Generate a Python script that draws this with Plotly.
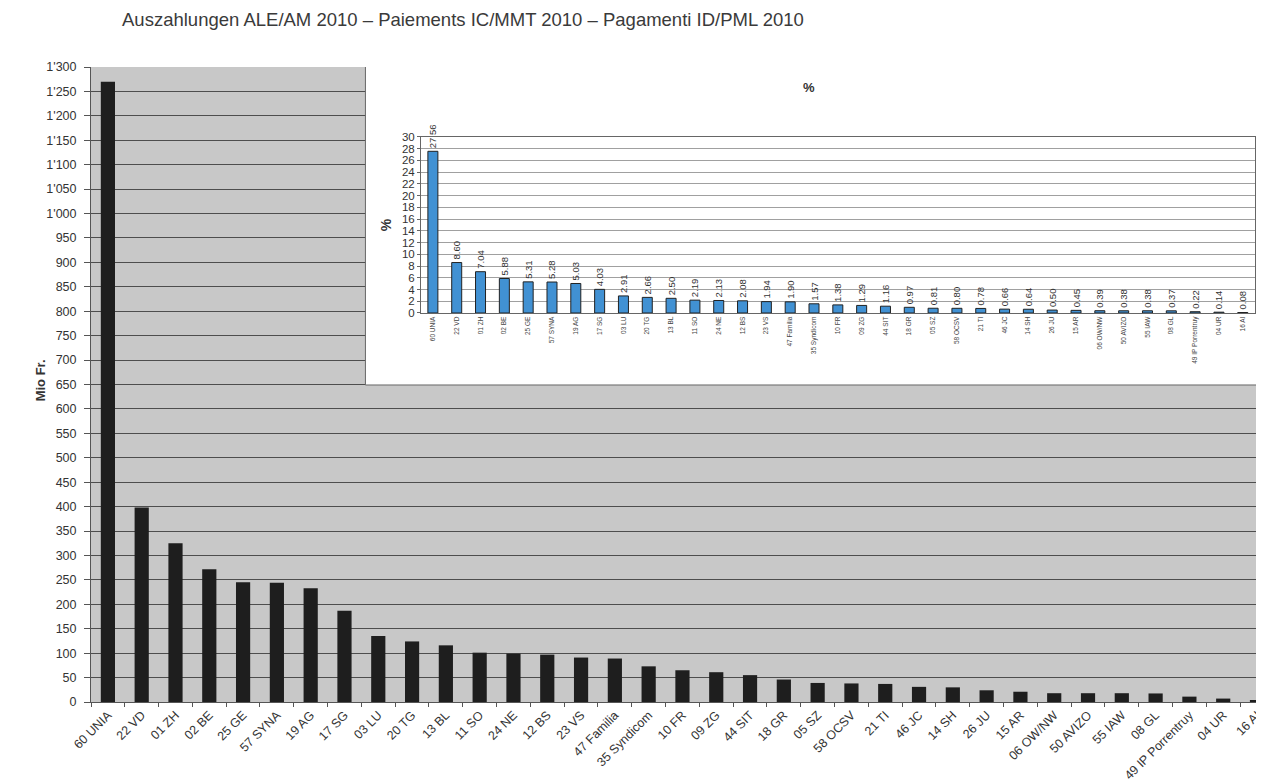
import plotly.graph_objects as go

categories = ["60 UNIA", "22 VD", "01 ZH", "02 BE", "25 GE", "57 SYNA", "19 AG", "17 SG",
              "03 LU", "20 TG", "13 BL", "11 SO", "24 NE", "12 BS", "23 VS", "47 Familia",
              "35 Syndicom", "10 FR", "09 ZG", "44 SIT", "18 GR", "05 SZ", "58 OCSV", "21 TI",
              "46 JC", "14 SH", "26 JU", "15 AR", "06 OW/NW", "50 AVIZO", "55 IAW", "08 GL",
              "49 IP Porrentruy", "04 UR", "16 AI"]

amounts_mio = [1270, 398, 325, 272, 245, 244, 233, 187,
               135, 124, 116, 101, 99, 97, 91, 89,
               73, 65, 61, 55, 46, 39, 38, 37,
               31, 30, 24, 21, 18, 18, 18, 17.5,
               11, 7, 4]

percent = [27.56, 8.60, 7.04, 5.88, 5.31, 5.28, 5.03, 4.03,
           2.91, 2.66, 2.50, 2.19, 2.13, 2.08, 1.94, 1.90,
           1.57, 1.38, 1.29, 1.16, 0.97, 0.81, 0.80, 0.78,
           0.66, 0.64, 0.50, 0.45, 0.39, 0.38, 0.38, 0.37,
           0.22, 0.14, 0.08]

main_y_ticks = list(range(0, 1301, 50))
inset_y_ticks = list(range(0, 31, 2))

title_text = "Auszahlungen ALE/AM 2010 \u2013 Paiements IC/MMT 2010 \u2013 Pagamenti ID/PML 2010"

FONT = "Liberation Sans, Arial, sans-serif"

fig = go.Figure()

fig.add_trace(go.Bar(
    x=categories, y=amounts_mio, xaxis="x", yaxis="y",
    marker=dict(color="#1e1e1e", line=dict(width=0)),
    showlegend=False, hoverinfo="x+y",
))

fig.add_trace(go.Bar(
    x=categories, y=percent, xaxis="x2", yaxis="y2",
    marker=dict(color="#4191d3", line=dict(color="#222222", width=1)),
    text=[f"{p:.2f}" for p in percent],
    textposition="outside", textangle=-90,
    textfont=dict(size=9.5, color="#333333", family=FONT),
    constraintext="none", cliponaxis=False,
    showlegend=False, hoverinfo="x+y",
))

fig.update_layout(
    width=1256, height=775,
    margin=dict(l=83, r=0, t=59, b=81),
    paper_bgcolor="white",
    plot_bgcolor="white",
    separators=".'",
    font=dict(family=FONT, color="#333333"),
    bargap=0.58,
    title=dict(text=title_text, x=0.0908, xanchor="left", xref="container",
               y=0.9845, yanchor="middle", yref="container",
               font=dict(size=18.5, color="#3a3a3a", family=FONT)),
    xaxis=dict(domain=[0, 1], anchor="y", range=[-0.5, 34.0],
               tickangle=-45, tickfont=dict(size=12.5, color="#333333"),
               ticks="outside", tickson="boundaries", ticklen=4, tickcolor="#555555",
               showgrid=False, showline=True, linecolor="#555555", linewidth=1),
    yaxis=dict(domain=[0, 1], anchor="x", range=[0, 1300],
               tickvals=main_y_ticks, tickformat=",d",
               tickfont=dict(size=12.5, color="#333333"),
               ticks="outside", ticklen=6, tickcolor="#555555", ticklabelstandoff=5,
               showgrid=True, gridcolor="#4e4e4e", gridwidth=1,
               showline=True, linecolor="#555555", linewidth=1, mirror=True,
               zeroline=False),
    xaxis2=dict(domain=[0.283, 0.998], anchor="y2", range=[-0.5, 34.5],
                tickangle=-90, tickfont=dict(size=6.5, color="#444444"),
                ticks="", showgrid=False, showline=True, mirror=True,
                linecolor="#666666", linewidth=1),
    yaxis2=dict(domain=[0.6126, 0.8898], anchor="x2", range=[0, 30],
                tickvals=inset_y_ticks, tickfont=dict(size=11.5, color="#333333"),
                ticks="outside", ticklen=3, tickcolor="#666666",
                showgrid=True, gridcolor="#a0a0a0", gridwidth=1,
                showline=True, mirror=True, linecolor="#666666", linewidth=1,
                zeroline=False,
                title=dict(text="<b>%</b>", font=dict(size=14, color="#333333"), standoff=6)),
    shapes=[
        # gray background of the main plot area
        dict(type="rect", xref="x domain", yref="y domain", x0=0, x1=1, y0=0, y1=1,
             fillcolor="#c8c8c8", line=dict(width=0), layer="below"),
        # white inset panel
        dict(type="rect", xref="x", yref="y", x0=7.62, x1=34.6, y0=649, y1=1320,
             fillcolor="white", line=dict(color="#666666", width=1), layer="between"),
    ],
    annotations=[
        dict(text="<b>Mio Fr.</b>", xref="paper", yref="paper", x=-0.0435, y=0.507,
             xanchor="center", yanchor="middle",
             textangle=-90, showarrow=False, font=dict(size=13, color="#333333")),
        dict(text="<b>%</b>", xref="paper", yref="paper", x=0.6155, y=0.967,
             xanchor="center", yanchor="middle",
             showarrow=False, font=dict(size=13, color="#333333")),
    ],
)

fig.write_html("out.html")
